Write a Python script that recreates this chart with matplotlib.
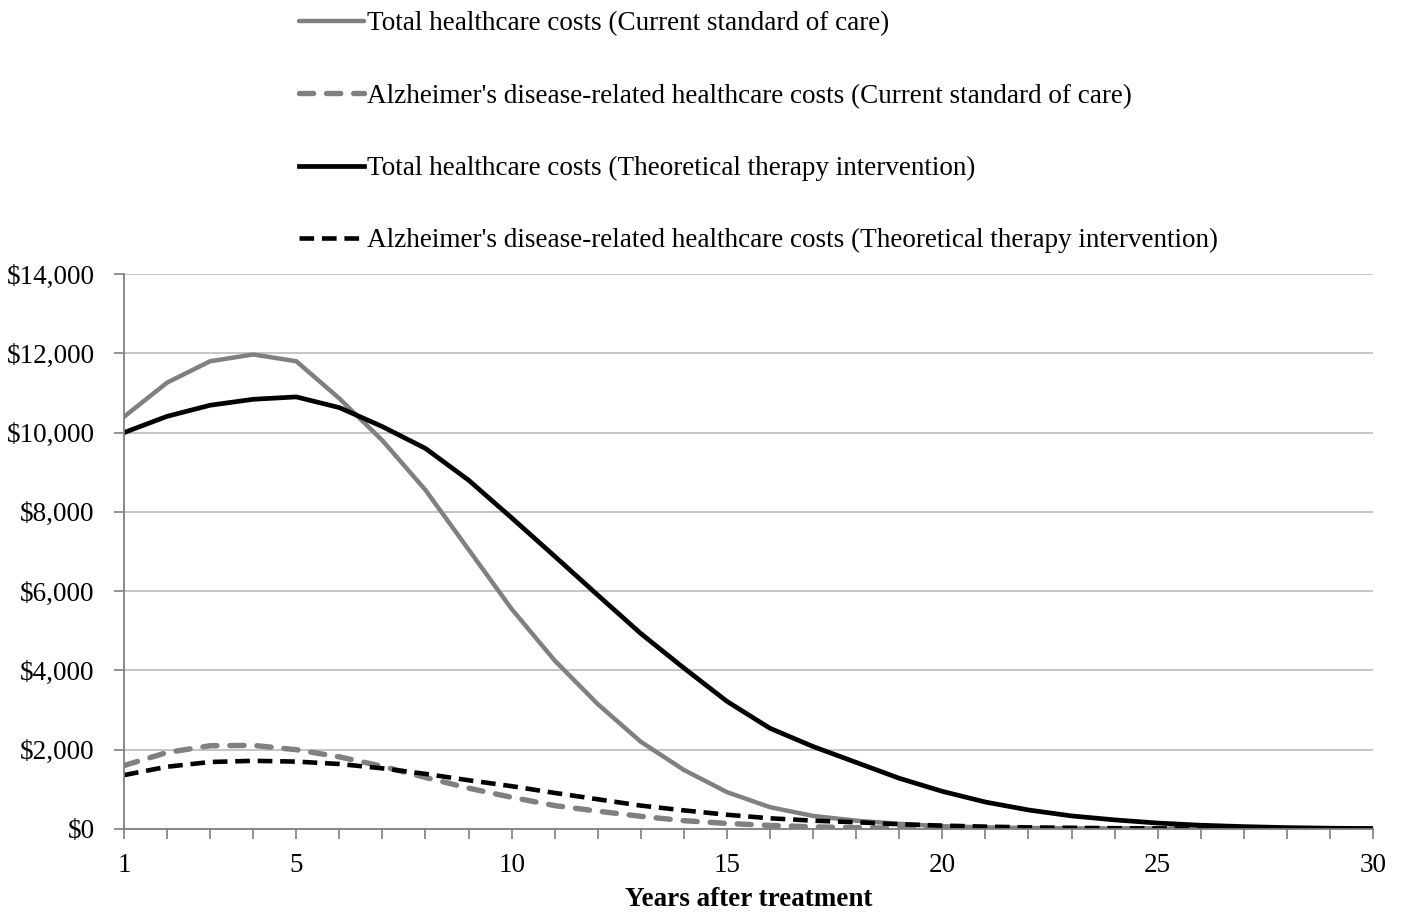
import matplotlib.pyplot as plt
from matplotlib.ticker import FuncFormatter

plt.rcParams['font.family'] = ['Liberation Serif', 'DejaVu Serif']

years = list(range(1, 31))

# annual costs per patient, USD
total_current = [10400, 11260, 11800, 11970, 11800, 10860, 9800, 8550, 7050, 5550,
                 4250, 3150, 2200, 1490, 930, 550, 330, 210, 130, 70,
                 42, 25, 15, 9, 5, 3, 2, 1, 1, 0]
ad_current = [1600, 1930, 2100, 2110, 2000, 1820, 1580, 1300, 1030, 800,
              590, 450, 320, 210, 140, 90, 55, 33, 20, 12,
              7, 4, 3, 2, 1, 1, 0, 0, 0, 0]
total_therapy = [10000, 10410, 10690, 10840, 10900, 10630, 10150, 9600, 8800, 7850,
                 6880, 5900, 4930, 4060, 3220, 2540, 2080, 1680, 1280, 950,
                 680, 480, 330, 230, 150, 95, 60, 35, 20, 10]
ad_therapy = [1360, 1570, 1690, 1720, 1700, 1640, 1530, 1390, 1230, 1080,
              910, 750, 590, 470, 360, 270, 210, 170, 120, 85,
              60, 40, 30, 20, 14, 9, 6, 4, 2, 1]

labels = ["Total healthcare costs (Current standard of care)",
          "Alzheimer's disease-related healthcare costs (Current standard of care)",
          "Total healthcare costs (Theoretical therapy intervention)",
          "Alzheimer's disease-related healthcare costs (Theoretical therapy intervention)"]

fig = plt.figure(figsize=(14.03, 9.14), dpi=100)
ax = fig.add_axes([0.0884, 0.093, 0.8902, 0.6072])

grey = '#808080'
ax.plot(years, total_current, color=grey, lw=3.2, label=labels[0], solid_capstyle='round')
ax.plot(years, ad_current, color=grey, lw=3.9, ls=(0, (2.6, 2.4)), dash_capstyle='round',
        label=labels[1])
ax.plot(years, total_therapy, color='black', lw=3.4, label=labels[2])
ax.plot(years, ad_therapy, color='black', lw=3.3, ls=(0, (3.2, 1.7)), label=labels[3])

ax.set_xlim(1, 30)
ax.set_ylim(0, 14000)
ax.set_yticks(range(0, 14001, 2000))
ax.yaxis.set_major_formatter(FuncFormatter(lambda v, p: '${:,.0f}'.format(v)))
ax.set_xticks(years)
ax.set_xticklabels([str(y) if y in (1, 5, 10, 15, 20, 25, 30) else '' for y in years])
ax.tick_params(axis='both', labelsize=19.5, color='#808080', length=7, width=1.2)
ax.tick_params(axis='x', pad=10)
ax.tick_params(axis='y', pad=14)
ax.grid(axis='y', color='#c0c0c0', lw=1.3)
ax.set_axisbelow(True)
for side in ('top', 'right'):
    ax.spines[side].set_visible(False)
for side in ('left', 'bottom'):
    ax.spines[side].set_color('#808080')
    ax.spines[side].set_linewidth(1.3)

ax.set_xlabel('Years after treatment', fontsize=19.5, fontweight='bold', labelpad=7)

fig.legend(loc='upper left', bbox_to_anchor=(0.196, 1.014), frameon=False,
           fontsize=19.5, handlelength=2.4, handletextpad=0.1, labelspacing=1.74)

fig.savefig('out.png', dpi=100)
